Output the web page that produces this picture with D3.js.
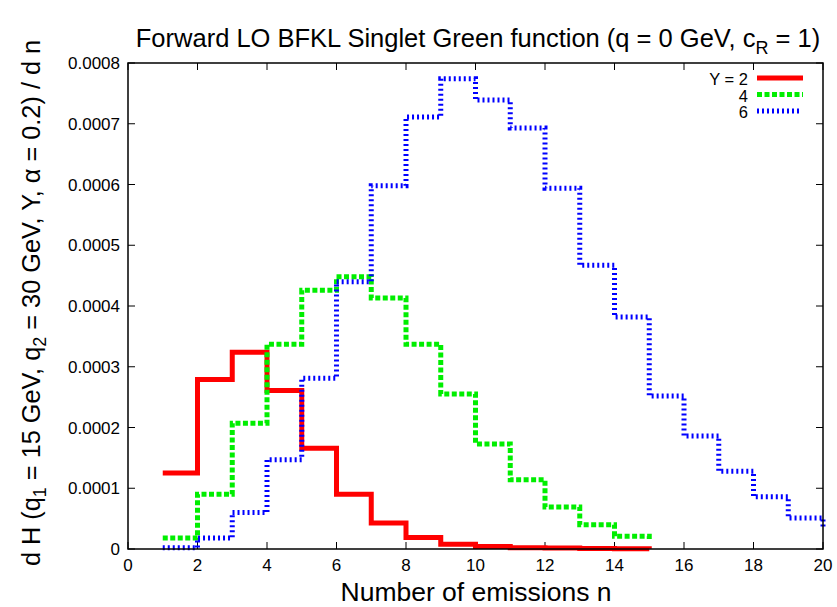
<!DOCTYPE html>
<html>
<head>
<meta charset="utf-8">
<script src="https://cdn.jsdelivr.net/npm/d3@7"></script>
<style>
  body { margin: 0; background: #fff; }
  text { font-family: "Liberation Sans", Arial, sans-serif; fill: #000; }
</style>
</head>
<body>
<svg id="chart" width="837" height="607"></svg>
<script>
// emission counts n and the singlet Green function for each rapidity Y
var nRed = [1,2,3,4,5,6,7,8,9,10,11,12,13,14,15];
var valRed = [0.000125,0.000279,0.000324,0.000261,0.000166,0.00009,0.000043,0.000019,0.000008,0.000004,0.000002,0.0000015,0.000001,0.0000005,0.0000003];
var nGreen = [1,2,3,4,5,6,7,8,9,10,11,12,13,14,15];
var valGreen = [0.000018,0.00009,0.000207,0.000337,0.000426,0.000448,0.000413,0.000337,0.000255,0.000173,0.000114,0.000069,0.00004,0.000021,0.000014];
var nBlue = [1,2,3,4,5,6,7,8,9,10,11,12,13,14,15,16,17,18,19,20];
var valBlue = [0.000002,0.000018,0.00006,0.000147,0.000281,0.00044,0.000598,0.000711,0.000774,0.000739,0.000693,0.000594,0.000467,0.000382,0.000252,0.000186,0.000128,0.000086,0.000051,0.000036];
var seriesLabels = ["Y = 2", "4", "6"];
var xTicks = [0,2,4,6,8,10,12,14,16,18,20];
var yTicks = [0,0.0001,0.0002,0.0003,0.0004,0.0005,0.0006,0.0007,0.0008];

var margin = {left: 128, right: 14, top: 63, bottom: 58};
var width = 837, height = 607;
var svg = d3.select("#chart");

var x = d3.scaleLinear().domain([0, 20]).range([margin.left, width - margin.right]);
var y = d3.scaleLinear().domain([0, 0.0008]).range([height - margin.bottom, margin.top]);

var series = [
  {n: nRed, v: valRed, color: "#ff0000", dash: null, w: 5},
  {n: nGreen, v: valGreen, color: "#00ee00", dash: "5,2.5", w: 5},
  {n: nBlue, v: valBlue, color: "#0000ff", dash: "2,3", w: 5}
];

// ticks, inward, mirrored
var tl = 7;
var g = svg.append("g");
xTicks.forEach(function(t) {
  g.append("line").attr("x1", x(t)).attr("x2", x(t)).attr("y1", y(0)).attr("y2", y(0) - tl).attr("stroke", "#000");
  g.append("line").attr("x1", x(t)).attr("x2", x(t)).attr("y1", y(0.0008)).attr("y2", y(0.0008) + tl).attr("stroke", "#000");
  g.append("text").attr("x", x(t)).attr("y", y(0) + 22).attr("text-anchor", "middle").attr("font-size", 17).text(t);
});
yTicks.forEach(function(t) {
  g.append("line").attr("x1", x(0)).attr("x2", x(0) + tl).attr("y1", y(t)).attr("y2", y(t)).attr("stroke", "#000");
  g.append("line").attr("x1", x(20)).attr("x2", x(20) - tl).attr("y1", y(t)).attr("y2", y(t)).attr("stroke", "#000");
  g.append("text").attr("x", x(0) - 8).attr("y", y(t) + 6).attr("text-anchor", "end").attr("font-size", 17)
    .text(t === 0 ? "0" : t.toFixed(4));
});

// step curves
var line = d3.line().x(function(d) { return x(d[0]); }).y(function(d) { return y(d[1]); }).curve(d3.curveStepAfter);
series.forEach(function(s) {
  var pts = s.n.map(function(n, i) { return [n, s.v[i]]; });
  svg.append("path").attr("d", line(pts)).attr("fill", "none")
    .attr("stroke", s.color).attr("stroke-width", s.w)
    .attr("stroke-dasharray", s.dash);
});

// frame
svg.append("rect").attr("x", x(0)).attr("y", y(0.0008)).attr("width", x(20) - x(0)).attr("height", y(0) - y(0.0008))
  .attr("fill", "none").attr("stroke", "#000").attr("stroke-width", 1.5);

// legend
series.forEach(function(s, i) {
  var ly = 78 + i * 16.5;
  svg.append("text").attr("x", 748).attr("y", ly + 7).attr("text-anchor", "end").attr("font-size", 16.5).text(seriesLabels[i]);
  svg.append("line").attr("x1", 757).attr("x2", i == 2 ? 801 : 803).attr("y1", ly).attr("y2", ly)
    .attr("stroke", s.color).attr("stroke-width", s.w).attr("stroke-dasharray", s.dash);
});

// title
var title = svg.append("text").attr("x", 478).attr("y", 47).attr("text-anchor", "middle").attr("font-size", 25.5);
title.append("tspan").text("Forward LO BFKL Singlet Green function (q = 0 GeV, c");
title.append("tspan").attr("font-size", 18).attr("dy", 7).text("R");
title.append("tspan").attr("dy", -7).text(" = 1)");

// x label
svg.append("text").attr("x", 476).attr("y", 601).attr("text-anchor", "middle").attr("font-size", 26.5).text("Number of emissions n");

// y label
var yl = svg.append("text").attr("transform", "translate(40," + 303 + ") rotate(-90)").attr("text-anchor", "middle").attr("font-size", 25.3);
yl.append("tspan").text("d H (q");
yl.append("tspan").attr("font-size", 18).attr("dy", 6).text("1");
yl.append("tspan").attr("dy", -6).text(" = 15 GeV, q");
yl.append("tspan").attr("font-size", 18).attr("dy", 6).text("2");
yl.append("tspan").attr("dy", -6).text(" = 30 GeV, Y, \u03b1 = 0.2) / d n");
</script>
</body>
</html>
